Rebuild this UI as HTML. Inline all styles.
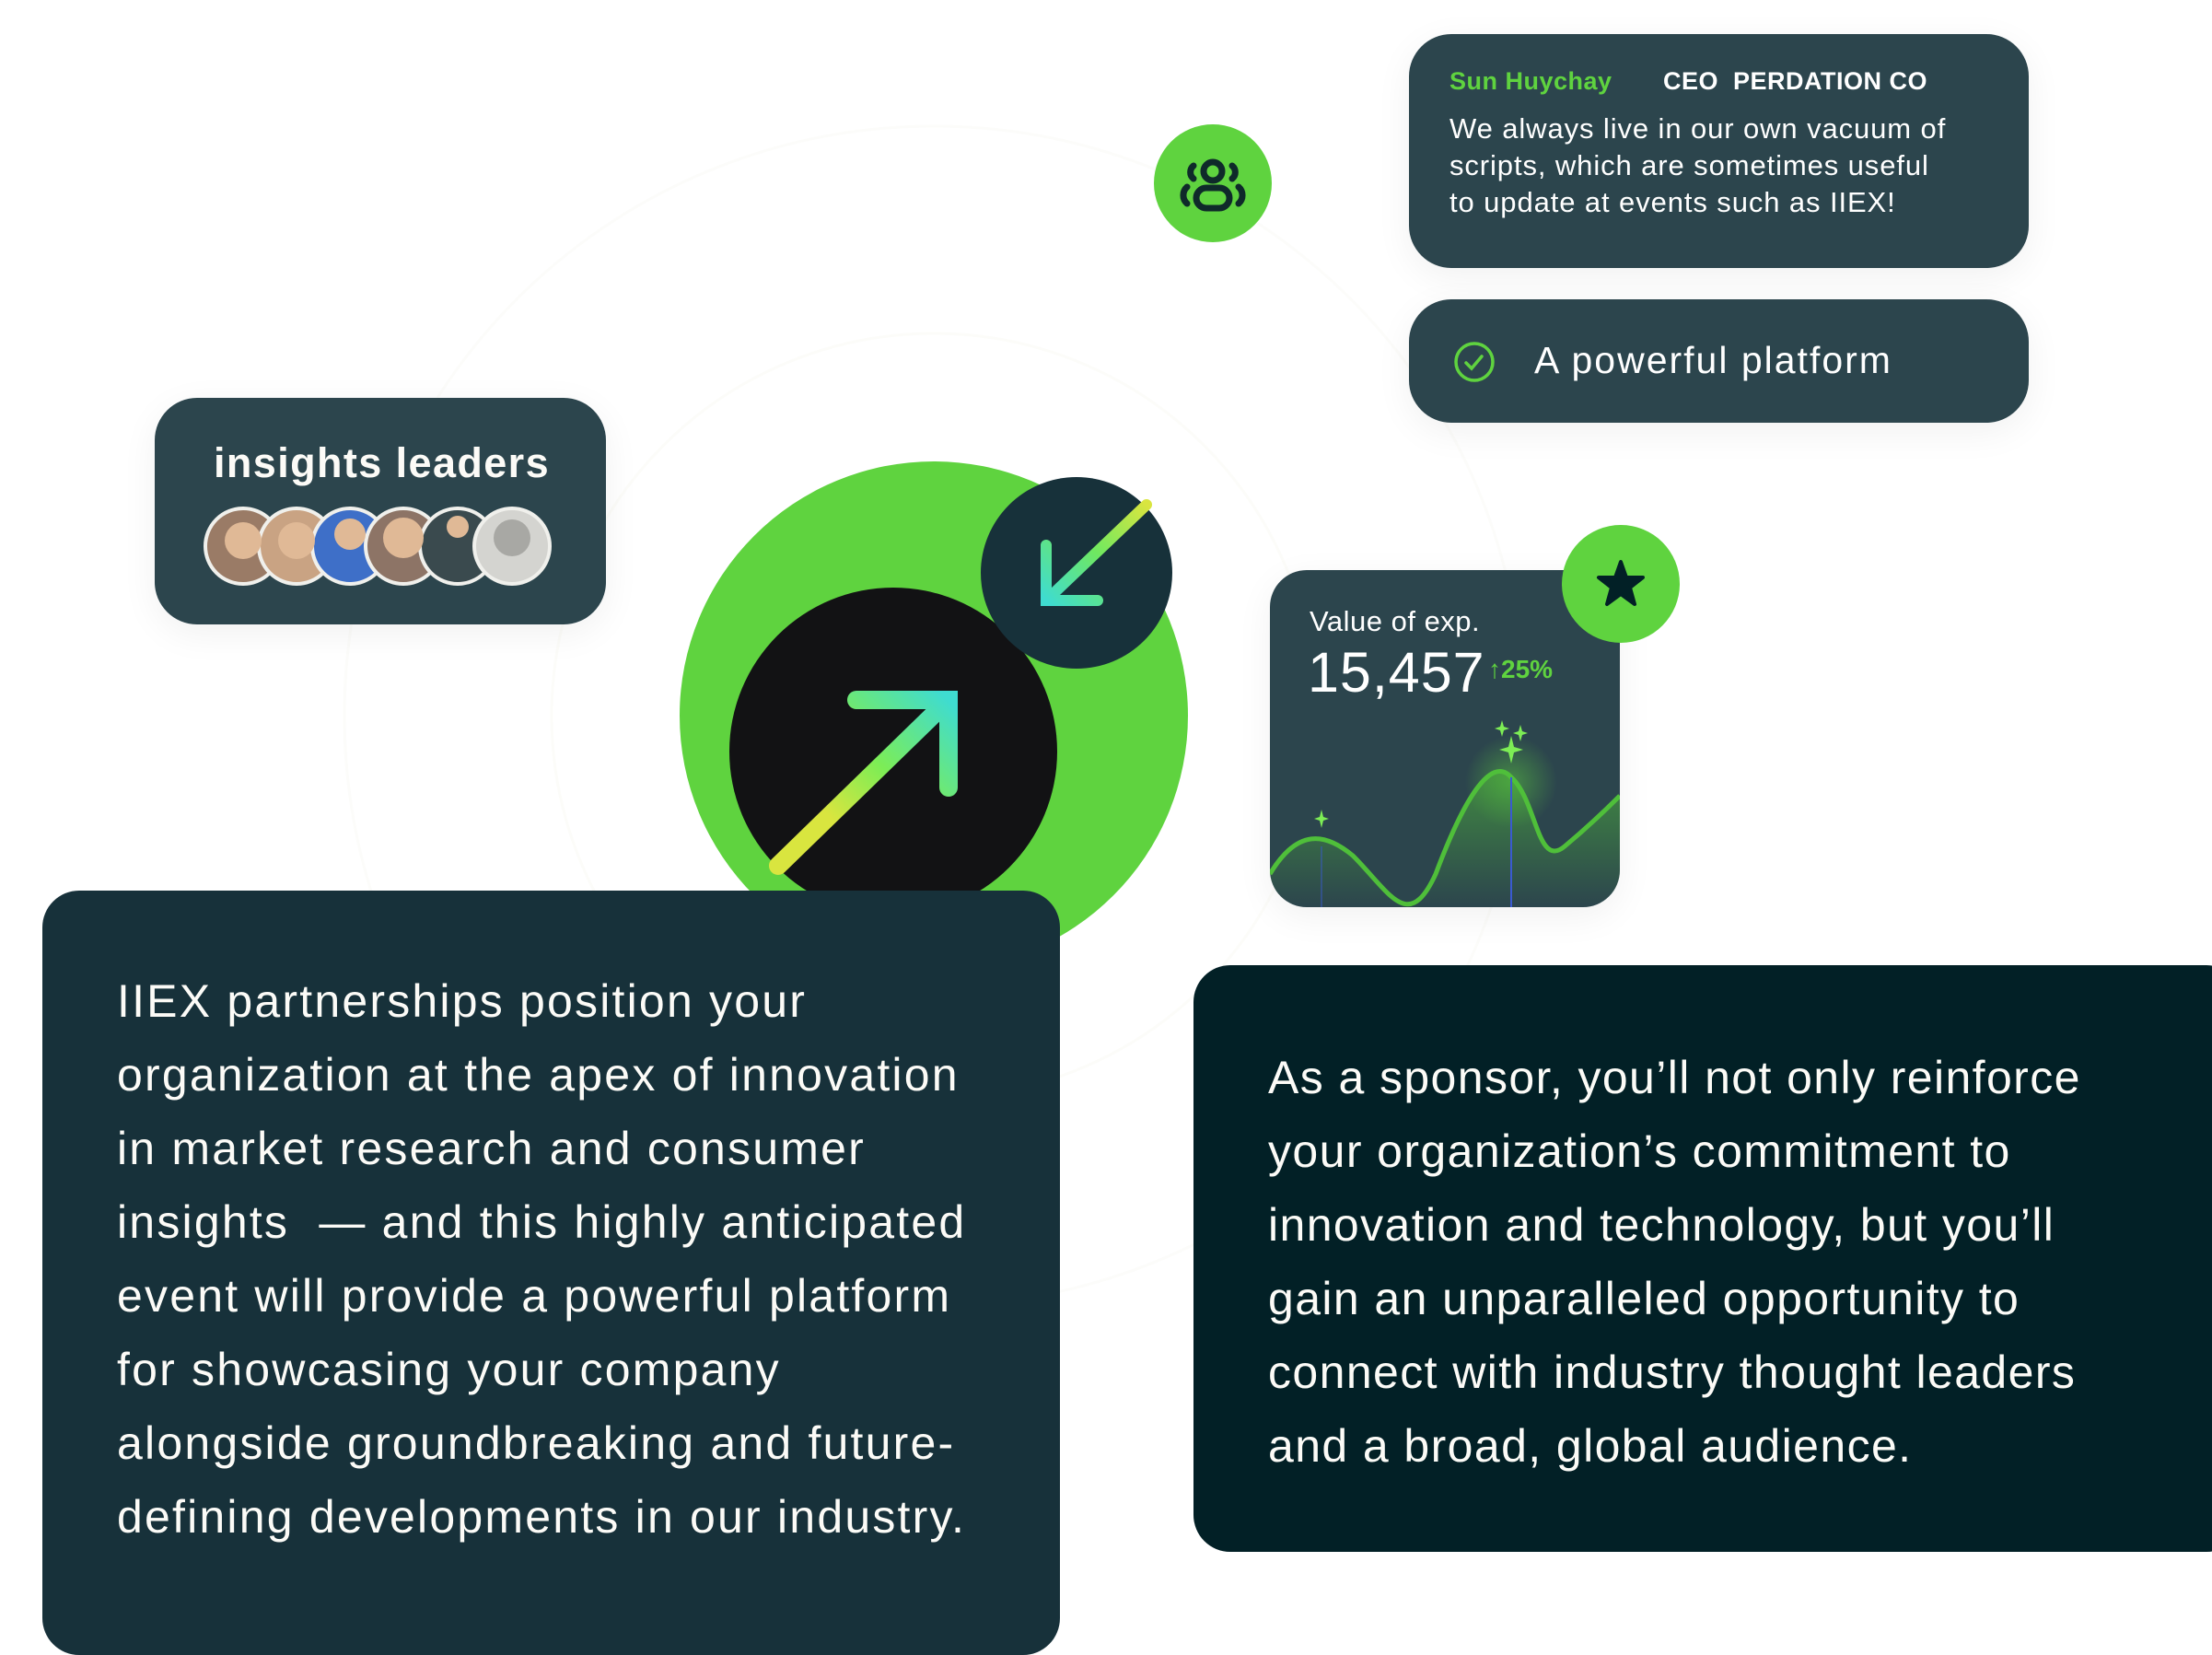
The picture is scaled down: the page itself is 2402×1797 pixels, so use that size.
<!DOCTYPE html>
<html><head><meta charset="utf-8"><style>
*{margin:0;padding:0;box-sizing:border-box}
body{width:2402px;height:1766px;background:#fff;position:relative;overflow:hidden;font-family:"Liberation Sans",sans-serif;color:#fff}
.a{position:absolute}
.card{position:absolute;background:#2c454d;border-radius:46px;box-shadow:0 10px 40px rgba(0,0,0,0.06)}
.t{position:absolute;white-space:nowrap}
</style></head><body>
<svg class="a" style="left:0;top:0" width="2402" height="1766">
  <circle cx="1014" cy="777" r="415" fill="none" stroke="#fcfcf9" stroke-width="3"/>
  <circle cx="1014" cy="777" r="640" fill="none" stroke="#fcfcfa" stroke-width="3"/>
  <circle cx="1014" cy="777" r="276" fill="#5fd33f"/>
  <circle cx="970" cy="816" r="178" fill="#121214"/>
  <defs>
    <linearGradient id="g1" x1="0" y1="1" x2="1" y2="0"><stop offset="0.3" stop-color="#d9e53f"/><stop offset="0.6" stop-color="#7ded55"/><stop offset="1" stop-color="#3fdcd0"/></linearGradient>
    <linearGradient id="g2" x1="0" y1="1" x2="1" y2="0"><stop offset="0" stop-color="#3fdcd0"/><stop offset="0.5" stop-color="#6fe860"/><stop offset="1" stop-color="#d9e53f"/></linearGradient>
  </defs>
  <path d="M845 940 L1030 760 M930 760 L1030 760 L1030 855" stroke="url(#g1)" stroke-width="20" fill="none" stroke-linecap="round" stroke-linejoin="miter"/>
  <circle cx="1169" cy="622" r="104" fill="#17313a"/>
  <path d="M1245 548 L1136 652 M1136 592 L1136 652 L1192 652" stroke="url(#g2)" stroke-width="12" fill="none" stroke-linecap="round"/>
  <circle cx="1317" cy="199" r="64" fill="#5fd33f"/>
  <g stroke="#0f2a2a" stroke-width="7" fill="none" stroke-linecap="round">
    <circle cx="1317" cy="186" r="10"/>
    <rect x="1299" y="204" width="36" height="22" rx="11"/>
    <path d="M1296 180 a9 9 0 0 0 0 14 M1338 180 a9 9 0 0 1 0 14 M1289 203 a12 12 0 0 0 0 18 M1345 203 a12 12 0 0 1 0 18"/>
  </g>
</svg>

<div class="card" style="left:1530px;top:37px;width:673px;height:254px">
  <div class="t" style="left:44px;top:36px;font-size:27px;font-weight:bold;color:#5fd33f;letter-spacing:0.5px">Sun Huychay</div>
  <div class="t" style="left:276px;top:36px;font-size:27px;font-weight:bold;letter-spacing:0.5px">CEO&nbsp; PERDATION CO</div>
  <div class="t" style="left:44px;top:83px;font-size:31px;line-height:40px;letter-spacing:0.9px">We always live in our own vacuum of<br>scripts, which are sometimes useful<br>to update at events such as IIEX!</div>
</div>
<div class="card" style="left:1530px;top:325px;width:673px;height:134px">
  <svg class="a" style="left:48px;top:45px" width="46" height="46"><circle cx="23" cy="23" r="20" fill="none" stroke="#5fd33f" stroke-width="3.5"/><path d="M14 24 L20 30 L31 17" stroke="#5fd33f" stroke-width="3.5" fill="none" stroke-linecap="round"/></svg>
  <div class="t" style="left:136px;top:43px;font-size:41px;letter-spacing:2px">A powerful platform</div>
</div>

<div class="card" style="left:168px;top:432px;width:490px;height:246px">
  <div class="t" style="left:64px;top:45px;font-size:45px;font-weight:bold;color:#fcfbf7;letter-spacing:1.4px">insights leaders</div>
  <svg class="a" style="left:0;top:0" width="490" height="246">
    <g stroke="#f0f0ec" stroke-width="4">
      <circle cx="96" cy="161" r="41" fill="#9a7b66"/>
      <circle cx="154" cy="161" r="41" fill="#c9a383"/>
      <circle cx="212" cy="161" r="41" fill="#3e6fc8"/>
      <circle cx="270" cy="161" r="41" fill="#8d7466"/>
      <circle cx="329" cy="161" r="41" fill="#3a4a4e"/>
      <circle cx="388" cy="161" r="41" fill="#d4d4d0"/>
    </g>
    <g fill="#e0b996"><circle cx="96" cy="155" r="20"/><circle cx="154" cy="155" r="20"/><circle cx="212" cy="148" r="17"/><circle cx="270" cy="152" r="22"/><circle cx="329" cy="140" r="12"/></g>
    <circle cx="388" cy="152" r="20" fill="#a8a8a4"/>
  </svg>
</div>

<div class="card" style="left:1379px;top:619px;width:380px;height:366px;overflow:hidden;border-radius:40px">
  <div class="t" style="left:43px;top:38px;font-size:31px;letter-spacing:0.5px">Value of exp.</div>
  <div class="t" style="left:41px;top:76px;font-size:61px;letter-spacing:1px">15,457</div>
  <div class="t" style="left:237px;top:92px;font-size:28px;color:#5fd33f;font-weight:bold">↑25%</div>
  <svg class="a" style="left:0;top:0" width="380" height="366">
    <defs><linearGradient id="f" x1="0" y1="0" x2="0" y2="1"><stop offset="0" stop-color="#4fb83a" stop-opacity="0.6"/><stop offset="1" stop-color="#4fb83a" stop-opacity="0"/></linearGradient>
    <radialGradient id="gl"><stop offset="0" stop-color="#5fd33f" stop-opacity="0.5"/><stop offset="1" stop-color="#5fd33f" stop-opacity="0"/></radialGradient></defs>
    <circle cx="262" cy="230" r="50" fill="url(#gl)"/>
    <path d="M0 330 C30 280 60 285 90 310 C130 350 150 395 180 330 C210 250 240 200 262 225 C290 250 290 325 320 300 C350 275 370 255 380 245 L380 366 L0 366Z" fill="url(#f)"/>
    <path d="M0 330 C30 280 60 285 90 310 C130 350 150 395 180 330 C210 250 240 200 262 225 C290 250 290 325 320 300 C350 275 370 255 380 245" stroke="#4fbf3a" stroke-width="5" fill="none"/>
    <line x1="262" y1="225" x2="262" y2="366" stroke="#3a5ad0" stroke-width="2"/>
    <line x1="56" y1="300" x2="56" y2="366" stroke="#3a5ad0" stroke-width="1.5" opacity="0.6"/>
    <g fill="#7ded55"><path d="M262 180 l3 12 l10 3 l-10 3 l-3 12 l-3 -12 l-10 -3 l10 -3z"/><path d="M252 163 l2 7 l6 2 l-6 2 l-2 7 l-2 -7 l-6 -2 l6 -2z"/><path d="M272 168 l2 7 l6 2 l-6 2 l-2 7 l-2 -7 l-6 -2 l6 -2z"/><path d="M56 260 l2 8 l6 2 l-6 2 l-2 8 l-2 -8 l-6 -2 l6 -2z"/></g>
  </svg>
</div>
<svg class="a" style="left:1696px;top:570px" width="128" height="128"><circle cx="64" cy="64" r="64" fill="#5fd33f"/><path d="M64 40 L70 57 L88 57 L74 68 L79 86 L64 75 L49 86 L54 68 L40 57 L58 57Z" fill="#022026" stroke="#022026" stroke-width="4" stroke-linejoin="round"/></svg>

<div class="a" style="left:46px;top:967px;width:1105px;height:830px;background:#17313a;border-radius:40px">
  <div class="t" style="left:81px;top:80px;font-size:50px;line-height:80px;color:#fcfbf7;letter-spacing:2.2px">IIEX partnerships position your<br>organization at the apex of innovation<br>in market research and consumer<br>insights&nbsp; — and this highly anticipated<br>event will provide a powerful platform<br>for showcasing your company<br>alongside groundbreaking and future-<br>defining developments in our industry.</div>
</div>
<div class="a" style="left:1296px;top:1048px;width:1140px;height:637px;background:#022026;border-radius:40px">
  <div class="t" style="left:81px;top:82px;font-size:50px;line-height:80px;color:#fcfbf7;letter-spacing:1.4px">As a sponsor, you’ll not only reinforce<br>your organization’s commitment to<br>innovation and technology, but you’ll<br>gain an unparalleled opportunity to<br>connect with industry thought leaders<br>and a broad, global audience.</div>
</div>
</body></html>
